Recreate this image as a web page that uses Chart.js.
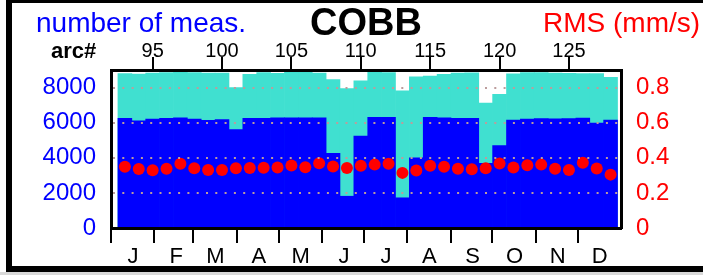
<!DOCTYPE html>
<html>
<head>
<meta charset="utf-8">
<script src="https://cdn.jsdelivr.net/npm/chart.js@4.4.0/dist/chart.umd.min.js"></script>
<style>
  html, body { margin: 0; padding: 0; background: #fff; }
  #wrap { position: relative; width: 703px; height: 275px; overflow: hidden; font-family: "Liberation Sans", Arial, sans-serif; }
  #frame { position: absolute; left: 6px; top: 0; width: 697px; height: 272px; box-sizing: border-box;
           border-top: 3px solid #000; border-left: 6px solid #000; border-bottom: 6px solid #000; }
  #strip { position: absolute; left: 0; top: 272px; width: 703px; height: 3px; background: #d9d9d9; }
  canvas { position: absolute; left: 0; top: 0; }
  .lbl { position: absolute; line-height: 1; white-space: nowrap; }
</style>
</head>
<body>
<div id="wrap">
  <div id="frame"></div>
  <div id="strip"></div>
  <canvas id="chart" width="703" height="275"></canvas>
  <div class="lbl" style="left:36px; top:9px; font-size:28px; color:#0000ff;">number of meas.</div>
  <div class="lbl" style="left:310px; top:3px; font-size:38px; font-weight:bold; color:#000;">COBB</div>
  <div class="lbl" style="left:543px; top:9px; font-size:28px; color:#ff0000;">RMS (mm/s)</div>
  <div class="lbl" style="left:51px; top:40px; font-size:22px; font-weight:bold; color:#000;">arc#</div>
</div>
<script>
const arcs = [93, 94, 95, 96, 97, 98, 99, 100, 101, 102, 103, 104, 105, 106, 107, 108, 109, 110,
  111, 112, 113, 114, 115, 116, 117, 118, 119, 120, 121, 122, 123, 124, 125, 126, 127, 128];
// all measurements per arc
const totalMeas = [8790, 8770, 8830, 8850, 8870, 8850, 8830, 8830, 8000, 8760, 8850, 8810, 8890, 8870, 8830, 8450, 7940, 8380,
  8900, 8850, 7810, 8610, 8650, 8760, 8830, 8840, 7120, 7620, 8780, 8850, 8860, 8830, 8810, 8790, 8790, 8580];
// measurements kept
const usedMeas = [6250, 6110, 6200, 6250, 6280, 6210, 6130, 6180, 5600, 6250, 6250, 6280, 6280, 6270, 6270, 4260, 1810, 5240,
  6300, 6300, 1720, 3990, 6300, 6280, 6250, 6250, 3680, 4700, 6150, 6210, 6230, 6220, 6230, 6260, 5970, 6150];
const rms = [0.349, 0.336, 0.329, 0.338, 0.366, 0.340, 0.330, 0.330, 0.341, 0.342, 0.343, 0.345, 0.356, 0.346, 0.369, 0.350, 0.342, 0.355,
  0.361, 0.366, 0.314, 0.328, 0.355, 0.349, 0.337, 0.334, 0.341, 0.367, 0.344, 0.357, 0.361, 0.338, 0.331, 0.372, 0.339, 0.304];
const arcTicks = [95, 100, 105, 110, 115, 120, 125];
const countTicks = [0, 2000, 4000, 6000, 8000];
const rmsTicks = [0, 0.2, 0.4, 0.6, 0.8];
const monthLabels = ["J", "F", "M", "A", "M", "J", "J", "A", "S", "O", "N", "D"];
const monthStarts = [0, 31, 59, 90, 120, 151, 181, 212, 243, 273, 304, 334];

Chart.defaults.font.family = '"Liberation Sans", Arial, sans-serif';

const gridColor = "#bc9c9c";

new Chart(document.getElementById("chart"), {
  type: "bar",
  data: {
    datasets: [
      {
        type: "scatter",
        data: arcs.map((a, i) => ({ x: a, y: rms[i] })),
        xAxisID: "arc",
        yAxisID: "yRms",
        backgroundColor: "#ff0000",
        borderColor: "#ff0000",
        borderWidth: 0,
        pointRadius: 6,
        order: 0,
      },
      {
        data: arcs.map((a, i) => ({ x: a, y: usedMeas[i] })),
        xAxisID: "arc",
        yAxisID: "yCount",
        backgroundColor: "#0000ff",
        borderWidth: 0,
        grouped: false,
        barPercentage: 1,
        categoryPercentage: 1,
        order: 1,
      },
      {
        data: arcs.map((a, i) => ({ x: a, y: totalMeas[i] })),
        xAxisID: "arc",
        yAxisID: "yCount",
        backgroundColor: "#40e0d0",
        borderWidth: 0,
        grouped: false,
        barPercentage: 1,
        categoryPercentage: 1,
        order: 2,
      },
    ],
  },
  options: {
    responsive: false,
    animation: false,
    devicePixelRatio: 1,
    layout: { padding: 0 },
    plugins: { legend: { display: false }, tooltip: { enabled: false } },
    scales: {
      arc: {
        type: "linear",
        position: "top",
        min: 92,
        max: 128.75,
        offset: false,
        afterBuildTicks: (s) => { s.ticks = arcTicks.map((v) => ({ value: v })); },
        afterFit: (s) => { s.height = 70; },
        grid: { offset: false, drawOnChartArea: false, drawTicks: true, tickLength: 13, color: "#000", lineWidth: 2 },
        border: { display: true, color: "#000", width: 3, z: 2 },
        ticks: { color: "#000", font: { size: 20 }, padding: -6, maxRotation: 0, autoSkip: false },
      },
      month: {
        type: "linear",
        position: "bottom",
        min: 0,
        max: 365,
        offset: false,
        afterBuildTicks: (s) => { s.ticks = monthStarts.map((v) => ({ value: v })); },
        afterFit: (s) => { s.height = 47; },
        grid: { offset: false, drawOnChartArea: false, drawTicks: true, tickLength: 15, color: "#000", lineWidth: 2 },
        border: { display: true, color: "#000", width: 3, z: 2 },
        ticks: {
          color: "#000",
          font: { size: 22 },
          padding: 1,
          labelOffset: 22,
          maxRotation: 0,
          autoSkip: false,
          callback: (v, i) => monthLabels[i],
        },
      },
      yCount: {
        type: "linear",
        position: "left",
        min: 0,
        max: 9000,
        afterBuildTicks: (s) => { s.ticks = countTicks.map((v) => ({ value: v })); },
        afterFit: (s) => { s.width = 111; },
        grid: {
          z: 1,
          drawTicks: false,
          lineWidth: 2,
          color: (ctx) => (ctx.tick && ctx.tick.value === 0 ? "rgba(0,0,0,0)" : gridColor),
        },
        border: { display: true, color: "#000", width: 3, dash: [2, 7.3], z: 2 },
        ticks: { color: "#0000ff", font: { size: 24 }, padding: 15, callback: (v) => String(v) },
      },
      yRms: {
        type: "linear",
        position: "right",
        min: 0,
        max: 0.9,
        afterBuildTicks: (s) => { s.ticks = rmsTicks.map((v) => ({ value: v })); },
        afterFit: (s) => { s.width = 82; },
        grid: { display: false, drawTicks: false },
        border: { display: true, color: "#000", width: 3, z: 2 },
        ticks: { color: "#ff0000", font: { size: 24 }, padding: 15, callback: (v) => String(v) },
      },
    },
  },
});
</script>
</body>
</html>
